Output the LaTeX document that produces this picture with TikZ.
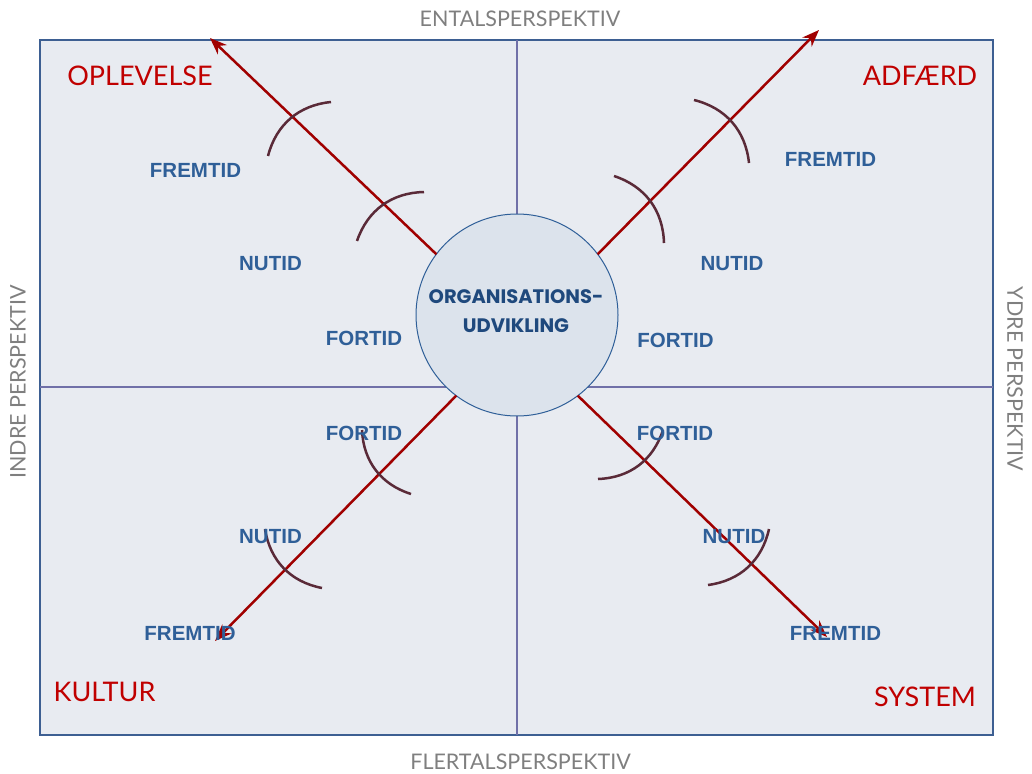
\documentclass[tikz,border=0pt]{standalone}
\usepackage{fontspec}
\setmainfont{Liberation Sans}
\newfontfamily\lightfont{Lato}
\newfontfamily\centerfont{Poppins}
\usetikzlibrary{arrows.meta}
\definecolor{boxfill}{HTML}{E8EBF1}
\definecolor{boxline}{HTML}{3D5F92}
\definecolor{midline}{HTML}{7070A8}
\definecolor{circfill}{HTML}{DCE3EC}
\definecolor{circline}{HTML}{2F5F98}
\definecolor{arrred}{HTML}{A00000}
\definecolor{arcbrown}{HTML}{5A2A38}
\definecolor{tblue}{HTML}{2F5F98}
\definecolor{cblue}{HTML}{1F497D}
\definecolor{qred}{HTML}{C00000}
\definecolor{pgray}{HTML}{7F7F7F}
\begin{document}
\begin{tikzpicture}[x=1pt,y=-1pt,
  frame/.style={draw=boxline, line width=1.5pt, fill=boxfill, minimum width=953pt, minimum height=695pt, inner sep=0pt, outer sep=0pt},
  mid/.style={draw=midline, line width=1.2pt},
  hub/.style={circle, draw=circline, line width=1pt, fill=circfill, minimum size=202pt, inner sep=0pt, outer sep=0pt},
  hubtext/.style={font=\centerfont\bfseries\fontsize{19.5}{29}\selectfont, text=cblue, align=center, inner sep=0pt},
  tlabel/.style={font=\bfseries\fontsize{20.5}{24}\selectfont, text=tblue, inner sep=0pt},
  qlabel/.style={font=\lightfont\fontsize{27}{32}\selectfont, text=qred, inner sep=0pt},
  plabel/.style={font=\lightfont\fontsize{21.5}{25}\selectfont, text=pgray, inner sep=0pt},
  arr/.style={draw=arrred, line width=2.5pt, -{Stealth[length=17pt,width=13pt]}},
  tick/.style={draw=arcbrown, line width=2.5pt}
]
\useasboundingbox (0,0) rectangle (1032,773);
\node[frame] (box) at (516.5,387.5) {};
\coordinate (vt) at (517,40);
\coordinate (vb) at (517,735);
\coordinate (hl) at (40,387);
\coordinate (hr) at (993,387);
\draw[mid] (vt) -- (vb);
\draw[mid] (hl) -- (hr);

% perspective labels
\node[plabel] (ental) at (520,18.5) {ENTALSPERSPEKTIV};
\node[plabel] (flertal) at (520.5,762) {FLERTALSPERSPEKTIV};
\node[plabel, rotate=90] (indre) at (18,382) {INDRE PERSPEKTIV};
\node[plabel, rotate=-90] (ydre) at (1015,379) {YDRE PERSPEKTIV};

% quadrant labels
\node[qlabel] (oplevelse) at (140,76) {OPLEVELSE};
\node[qlabel] (adfaerd) at (920,76) {ADFÆRD};
\node[qlabel] (kultur) at (104.5,692) {KULTUR};
\node[qlabel] (system) at (925,697) {SYSTEM};

% hub
\node[hub] (c) at (517,315) {};
\node[hubtext] (ctext) at (516,311) {ORGANISATIONS-\\UDVIKLING};

% arrow tips
\coordinate (tipTL) at (210,38);
\coordinate (tipTR) at (819,30);
\coordinate (tipBL) at (215,641);
\coordinate (tipBR) at (827,637);
\draw[arr] (c.143.6) -- (tipTL);
\draw[arr] (c.37.4) -- (tipTR);
\draw[arr] (c.233.5) -- (tipBL);
\draw[arr] (c.307.3) -- (tipBR);

% time arcs
\coordinate (tl1a) at (268,156); \coordinate (tl1b) at (331,102);
\coordinate (tl2a) at (357,241); \coordinate (tl2b) at (424,192);
\coordinate (tr1a) at (694,100); \coordinate (tr1b) at (749,163);
\coordinate (tr2a) at (614,176); \coordinate (tr2b) at (664,243);
\coordinate (bl1a) at (362,430); \coordinate (bl1b) at (411,494);
\coordinate (bl2a) at (265,529); \coordinate (bl2b) at (322,588);
\coordinate (br1a) at (663,430); \coordinate (br1b) at (598,479);
\coordinate (br2a) at (769,529); \coordinate (br2b) at (708,585);
\draw[tick] (tl1a) to[bend left=35] (tl1b);
\draw[tick] (tl2a) to[bend left=35] (tl2b);
\draw[tick] (tr1a) to[bend left=35] (tr1b);
\draw[tick] (tr2a) to[bend left=35] (tr2b);
\draw[tick] (bl1a) to[bend right=35] (bl1b);
\draw[tick] (bl2a) to[bend right=35] (bl2b);
\draw[tick] (br1a) to[bend left=35] (br1b);
\draw[tick] (br2a) to[bend left=35] (br2b);

% time labels
\node[tlabel] (tlF) at (195.5,170.5) {FREMTID};
\node[tlabel] (tlN) at (270.5,264) {NUTID};
\node[tlabel] (tlP) at (364,338.5) {FORTID};
\node[tlabel] (trF) at (830.5,159) {FREMTID};
\node[tlabel] (trN) at (732,264) {NUTID};
\node[tlabel] (trP) at (675.5,340) {FORTID};
\node[tlabel] (blP) at (364,433) {FORTID};
\node[tlabel] (blN) at (270.5,537) {NUTID};
\node[tlabel] (blF) at (190,633) {FREMTID};
\node[tlabel] (brP) at (675,433) {FORTID};
\node[tlabel] (brN) at (734,537) {NUTID};
\node[tlabel] (brF) at (835.5,633) {FREMTID};
\end{tikzpicture}
\end{document}
